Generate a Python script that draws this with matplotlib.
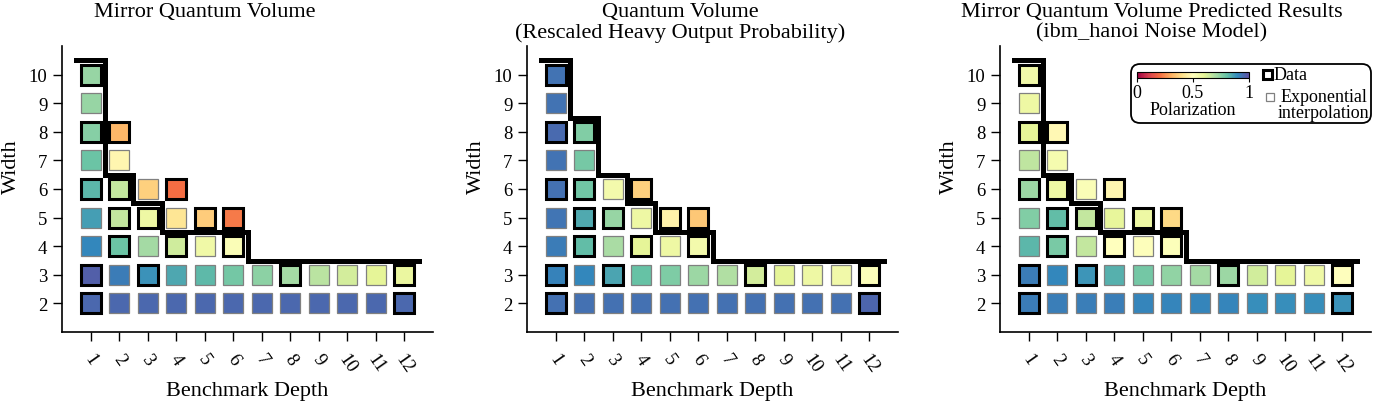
import numpy as np
import matplotlib
matplotlib.use("Agg")
import matplotlib as mpl
import matplotlib.pyplot as plt
from matplotlib.patches import Rectangle, FancyBboxPatch

plt.rcParams['font.family'] = ['Liberation Serif', 'DejaVu Serif']

# ---------------- data ----------------
depths = list(range(1, 13))
widths = list(range(2, 11))

# cells that are measured data (others are exponential interpolation)
data_depths = {2: [1, 12], 3: [1, 3, 8, 12], 4: [2, 4, 6], 5: [2, 3, 5, 6],
               6: [1, 2, 4], 7: [], 8: [1, 2], 9: [], 10: [1]}

# polarization per width (rows: width 2..10, entries: depth 1..)
mqv_pol = [
    [0.955, 0.955, 0.955, 0.955, 0.955, 0.955, 0.955, 0.955, 0.955, 0.955, 0.955, 0.955],
    [0.97, 0.92, 0.88, 0.845, 0.815, 0.78, 0.745, 0.71, 0.675, 0.63, 0.60, 0.58],
    [0.90, 0.79, 0.71, 0.64, 0.56, 0.52],
    [0.86, 0.66, 0.57, 0.42, 0.36, 0.22],
    [0.82, 0.66, 0.37, 0.20],
    [0.79, 0.47],
    [0.75, 0.32],
    [0.73],
    [0.73],
]
qv_pol = [
    [0.94, 0.94, 0.94, 0.94, 0.94, 0.94, 0.94, 0.94, 0.94, 0.94, 0.94, 0.96],
    [0.91, 0.90, 0.85, 0.80, 0.765, 0.72, 0.69, 0.63, 0.60, 0.57, 0.555, 0.515],
    [0.92, 0.805, 0.70, 0.60, 0.57, 0.55],
    [0.93, 0.84, 0.73, 0.57, 0.46, 0.35],
    [0.94, 0.785, 0.55, 0.37],
    [0.935, 0.775],
    [0.95, 0.76],
    [0.935],
    [0.935],
]
pred_pol = [
    [0.92, 0.915, 0.915, 0.915, 0.905, 0.905, 0.905, 0.905, 0.89, 0.89, 0.89, 0.88],
    [0.92, 0.90, 0.875, 0.83, 0.78, 0.735, 0.71, 0.72, 0.635, 0.60, 0.565, 0.505],
    [0.82, 0.77, 0.66, 0.50, 0.51, 0.515],
    [0.76, 0.805, 0.66, 0.59, 0.57, 0.39],
    [0.72, 0.57, 0.52, 0.47],
    [0.665, 0.54],
    [0.60, 0.48],
    [0.57],
    [0.555],
]

# maximum passing width for each depth (staircase frontier)
mqv_frontier = [10, 6, 5, 4, 4, 4, 3, 3, 3, 3, 3, 3]
qv_frontier = [10, 8, 6, 5, 4, 4, 3, 3, 3, 3, 3, 3]
pred_frontier = [10, 6, 5, 4, 4, 4, 3, 3, 3, 3, 3, 3]

titles = ["Mirror Quantum Volume",
          "Quantum Volume\n(Rescaled Heavy Output Probability)",
          "Mirror Quantum Volume Predicted Results\n(ibm_hanoi Noise Model)"]

# ---------------- figure ----------------
W, H = 1375, 402
fig = plt.figure(figsize=(W / 100, H / 100), dpi=100)
cmap = plt.get_cmap('Spectral')
norm = mpl.colors.Normalize(0, 1)


def fx(px):
    return px / W


def fy(py):
    return 1 - py / H


panel_left = [62, 527, 1000]
title_cx = [205, 680, 1152]
pols = [mqv_pol, qv_pol, pred_pol]
fronts = [mqv_frontier, qv_frontier, pred_frontier]
size = 0.70

for k in range(3):
    ax = fig.add_axes([fx(panel_left[k]), fy(333), 371 / W, 286 / H])
    for w, row in zip(widths, pols[k]):
        for d, v in zip(depths, row):
            is_data = d in data_depths[w]
            ax.add_patch(Rectangle((d - size / 2, w - size / 2), size, size,
                                   facecolor=cmap(norm(v)),
                                   edgecolor='black' if is_data else '#808080',
                                   lw=2.2 if is_data else 0.9,
                                   zorder=3 if is_data else 2))
    sp = ax.stairs(np.array(fronts[k]) + 0.5, np.arange(0.5, 13, 1.0),
                   baseline=None, color='black', lw=3.6, zorder=5)
    sp.set_capstyle('projecting')
    sp.set_joinstyle('miter')

    ax.set_xlim(0, 13)
    ax.set_ylim(1, 11)
    ax.set_xticks(depths)
    ax.set_xticklabels([str(d) for d in depths], rotation=-55, fontsize=13.5)
    ax.set_yticks(widths)
    ax.set_yticklabels([str(w) for w in widths], fontsize=13.5)
    ax.tick_params(direction='out', length=6.5, width=1.0, color='black', pad=4)
    ax.tick_params(axis='x', pad=7)
    for s in ['top', 'right']:
        ax.spines[s].set_visible(False)
    for s in ['left', 'bottom']:
        ax.spines[s].set_linewidth(1.2)
    ax.set_xlabel('Benchmark Depth', fontsize=16)
    ax.xaxis.set_label_coords(0.5, -0.17)
    ax.set_ylabel('Width', fontsize=16)
    ax.yaxis.set_label_coords(-0.135, 0.58)
    ax.yaxis.label.set_va('center')

    fig.text(fx(title_cx[k]), fy(3), titles[k], ha='center', va='top',
             fontsize=16, linespacing=1.1)

# ---------------- legend ----------------
lax = fig.add_axes([fx(1128), fy(127), 245 / W, 65 / H])
lax.set_xlim(1128, 1373)
lax.set_ylim(127, 62)
lax.axis('off')
lax.add_patch(FancyBboxPatch((1131, 65), 240, 59,
                             boxstyle='round,pad=0,rounding_size=9',
                             facecolor='white', edgecolor='black', lw=1.3,
                             clip_on=False))
lax.add_patch(Rectangle((1262.5, 70.5), 9, 9, facecolor='white',
                        edgecolor='black', lw=2.2, clip_on=False))
lax.add_patch(Rectangle((1265.5, 93.5), 8, 8, facecolor='white',
                        edgecolor='#808080', lw=0.9, clip_on=False))
lax.text(1274, 75, 'Data', ha='left', va='center', fontsize=13)
lax.text(1281, 97, 'Exponential', ha='left', va='center', fontsize=13)
lax.text(1278, 114, 'interpolation', ha='left', va='center', fontsize=13)

cax = fig.add_axes([fx(1137), fy(79), 112 / W, 6 / H])
cb = fig.colorbar(mpl.cm.ScalarMappable(norm=norm, cmap=cmap), cax=cax,
                  orientation='horizontal', ticks=[0, 0.5, 1])
cb.ax.set_xticklabels(['0', '0.5', '1'])
cb.ax.tick_params(labelsize=13, length=3, width=0.8, pad=1)
cb.outline.set_linewidth(0.8)
cb.set_label('Polarization', fontsize=13, labelpad=0)

fig.savefig('out.png', dpi=100)
